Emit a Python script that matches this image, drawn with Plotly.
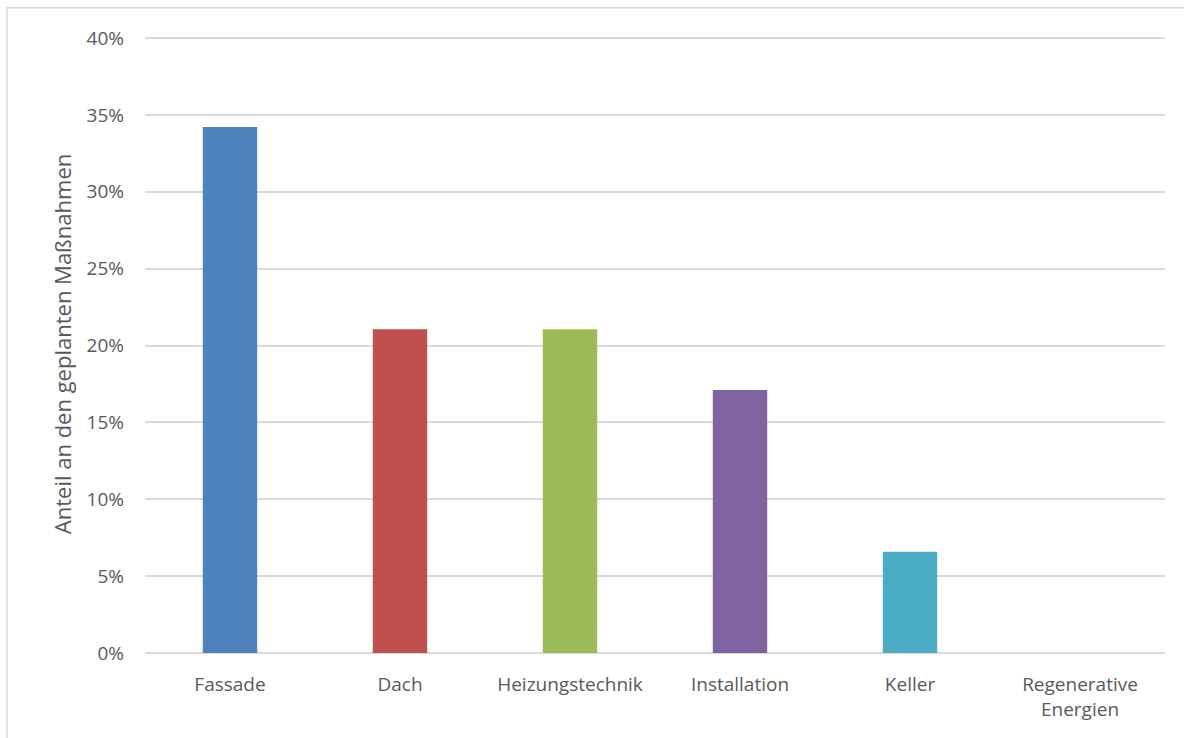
import plotly.graph_objects as go

# Share of planned renovation measures by building component
categories = ["Fassade", "Dach", "Heizungstechnik", "Installation", "Keller", "Regenerative<br>Energien"]
shares = [26 / 76, 16 / 76, 16 / 76, 13 / 76, 5 / 76, 0.0]
colors = ["#4f81bd", "#c0504d", "#9bbb59", "#8064a2", "#4bacc6", "#f79646"]
y_ticks = [0, 0.05, 0.10, 0.15, 0.20, 0.25, 0.30, 0.35, 0.40]
y_tick_labels = ["0%", "5%", "10%", "15%", "20%", "25%", "30%", "35%", "40%"]
y_title = "Anteil an den geplanten Maßnahmen"

font_family = "Open Sans, Noto Sans, sans-serif"
text_color = "#595959"
grid_color = "#d9d9d9"

fig = go.Figure(
    go.Bar(
        x=categories,
        y=shares,
        marker=dict(color=colors, line=dict(width=0)),
        hoverinfo="x+y",
    )
)

fig.update_layout(
    width=1184,
    height=738,
    margin=dict(l=145, r=19, t=35, b=85),
    paper_bgcolor="white",
    plot_bgcolor="white",
    bargap=0.68,
    showlegend=False,
    font=dict(family=font_family, size=19, color=text_color),
    shapes=[
        dict(
            type="rect",
            xref="paper",
            yref="paper",
            x0=-0.1353,
            x1=1.1,
            y0=-0.3,
            y1=1.044,
            line=dict(color=grid_color, width=1.5),
            fillcolor="rgba(0,0,0,0)",
            layer="below",
        )
    ],
)

fig.update_xaxes(
    showgrid=False,
    showline=False,
    ticks="",
    ticklabelstandoff=18,
    tickfont=dict(size=19, color=text_color),
)

fig.update_yaxes(
    range=[0, 0.40195],
    tickvals=y_ticks,
    ticktext=y_tick_labels,
    showgrid=True,
    gridcolor=grid_color,
    gridwidth=1.5,
    zeroline=True,
    zerolinecolor=grid_color,
    zerolinewidth=1.5,
    showline=False,
    ticks="",
    ticklen=0,
    ticklabelstandoff=20,
    tickfont=dict(size=19, color=text_color),
    title=dict(text=y_title, font=dict(size=22, color=text_color), standoff=8),
)

fig.write_html("out.html")
